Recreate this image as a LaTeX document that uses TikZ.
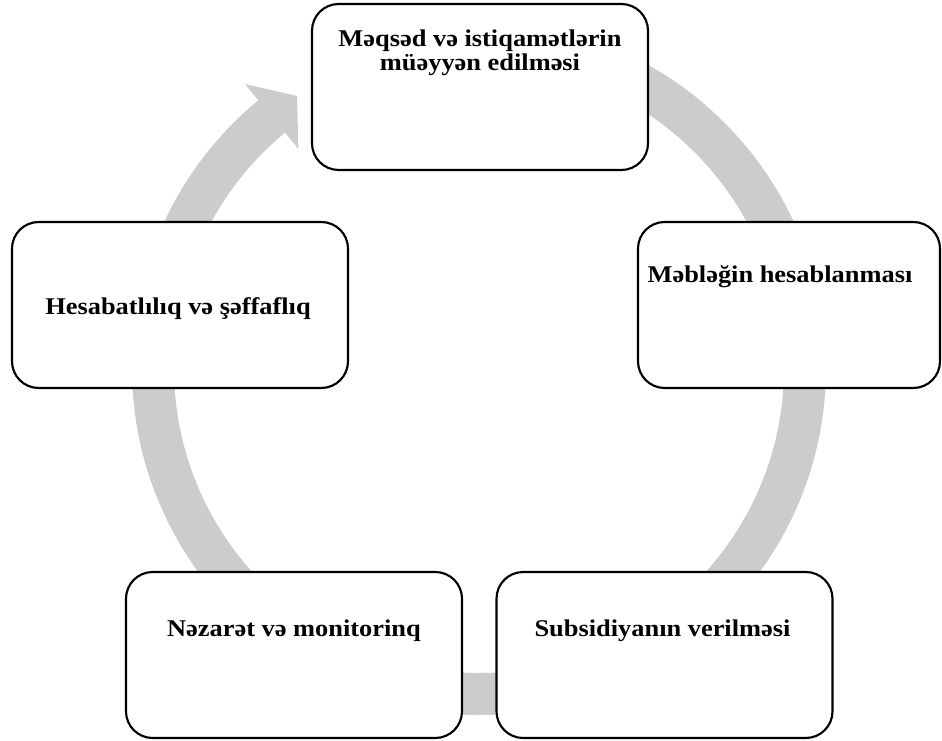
\documentclass[tikz,border=0pt]{standalone}
\usepackage{fontspec}
\setmainfont[FakeStretch=1.1]{Liberation Serif}
\usetikzlibrary{calc}

\begin{document}
\begin{tikzpicture}[x=0.75pt,y=0.75pt]
    \tikzset{stage/.style = {draw,
        line width     = 1.6pt,
        rounded corners = 20pt,
        fill           = white,
        minimum width  = 252pt,
        minimum height = 124.5pt},
      stagetext/.style = {font=\fontsize{18}{17.5}\selectfont\bfseries,
        align = center, inner sep = 0pt},
      ring/.style = {line width=31.5pt, draw=black!20}}
    \useasboundingbox (0,0) rectangle (942,740);
    \coordinate (O) at (479,372);
    \draw[ring] ($(O)+(90:326)$) arc[start angle=90, end angle=-230.5, radius=326];
    \fill[black!20] ($(O)+(129.5:368)$) -- (297,644) -- ($(O)+(129.5:284)$) -- cycle;
    \node[stage] (goal) at (480,653) {};
    \node[stage, minimum width=226.5pt] (amount) at (789,435) {};
    \node[stage] (grant) at (664.5,85) {};
    \node[stage] (control) at (294,85) {};
    \node[stage] (report) at (180,435) {};
    \node[stagetext, anchor=north] (goaltext) at ($(goal.north) - (0,27)$) {Məqsəd və istiqamətlərin\\müəyyən edilməsi};
    \node[stagetext, anchor=base] (amounttext) at ($(amount.north) - (9,62)$) {Məbləğin hesablanması};
    \node[stagetext, anchor=base] (granttext) at ($(grant.north) - (2,66)$) {Subsidiyanın verilməsi};
    \node[stagetext, anchor=base] (controltext) at ($(control.north) - (0,66)$) {Nəzarət və monitorinq};
    \node[stagetext, anchor=base] (reporttext) at ($(report.center) - (2,10)$) {Hesabatlılıq və şəffaflıq};
  \end{tikzpicture}
\end{document}
